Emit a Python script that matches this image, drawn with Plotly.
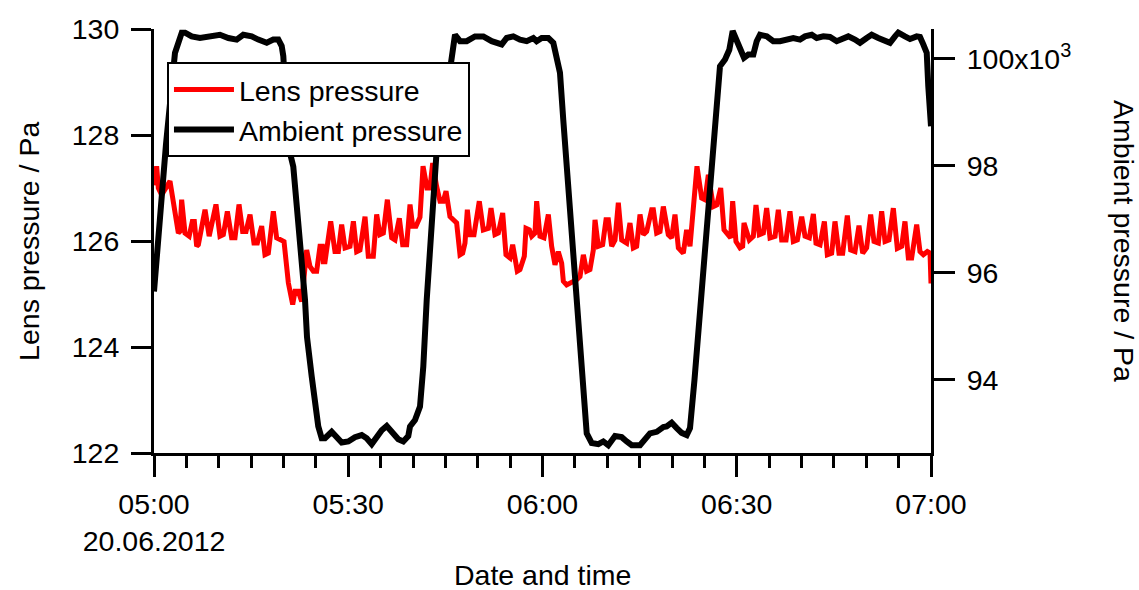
import pandas as pd
import plotly.graph_objects as go

# Measurement start and elapsed time (minutes) for each series
start = pd.Timestamp("2012-06-20 05:00")

lens_minutes = [
    0.0, 0.41, 0.67, 1.18, 2.47, 3.24, 3.76, 4.02, 4.27, 4.79, 5.43, 5.92, 6.23, 6.59, 6.85,
    7.88, 8.52, 9.57, 10.19, 10.71, 11.33, 11.99, 12.51, 13.13, 13.69, 14.21, 14.83, 15.44,
    15.96, 16.63, 17.14, 17.66, 18.43, 18.94, 19.46, 20.08, 20.75, 21.42, 21.78, 22.29, 22.81,
    23.58, 24.09, 24.61, 25.12, 25.64, 26.0, 26.15, 26.41, 27.29, 27.95, 28.47, 28.98, 29.50,
    30.27, 30.79, 31.30, 31.81, 32.59, 33.10, 33.87, 34.39, 34.90, 35.42, 36.04, 36.71, 37.22,
    37.89, 38.41, 39.02, 39.54, 39.95, 40.46, 41.08, 41.55, 42.16, 42.62, 43.04, 43.65, 44.17,
    44.68, 45.10, 45.71, 46.23, 46.74, 47.26, 47.67, 48.03, 48.39, 48.80, 49.42, 50.24, 50.86,
    51.63, 52.05, 52.66, 53.18, 53.85, 54.36, 54.98, 55.39, 56.11, 56.52, 57.19, 57.45, 57.97,
    58.33, 58.84, 59.10, 59.61, 60.23, 60.90, 61.41, 61.93, 62.44, 62.96, 63.22, 63.73, 64.25,
    64.76, 65.28, 65.79, 66.31, 66.82, 67.33, 67.85, 68.11, 68.62, 69.29, 69.81, 70.17, 70.68,
    71.20, 71.71, 72.23, 73.00, 73.51, 74.03, 74.54, 75.06, 75.57, 76.09, 76.86, 77.12, 77.63,
    78.15, 78.66, 79.43, 79.95, 80.46, 80.98, 81.75, 82.26, 82.78, 83.86, 84.58, 85.10, 85.61,
    86.38, 86.90, 87.52, 88.03, 88.70, 89.06, 89.37, 89.88, 90.50, 90.91, 91.12, 91.63, 91.94,
    92.56, 92.97, 93.49, 94.11, 94.62, 95.14, 95.91, 96.42, 96.94, 97.61, 98.22, 98.74, 99.36,
    100.03, 100.54, 101.21, 101.83, 102.24, 102.86, 103.53, 103.99, 104.66, 105.17, 105.79,
    106.36, 107.08, 107.59, 108.26, 108.88, 109.45, 110.06, 110.68, 111.20, 111.87, 112.38,
    112.90, 113.51, 114.18, 114.80, 115.47, 115.98, 116.50, 117.01, 117.79, 118.30, 118.82,
    119.43, 119.85, 120.0,
]
lens_pressure = [
    127.05, 127.41, 127.0, 126.87, 127.13, 126.53, 126.15, 126.18, 126.78, 126.15, 126.09,
    126.37, 126.37, 125.90, 125.93, 126.59, 126.09, 126.69, 126.09, 126.12, 126.56, 126.06,
    126.06, 126.69, 126.18, 126.18, 126.50, 125.96, 125.96, 126.28, 125.74, 125.77, 126.56,
    126.06, 126.02, 125.99, 125.21, 124.80, 125.05, 125.05, 124.86, 125.83, 125.52, 125.43,
    125.43, 125.90, 125.90, 125.61, 125.61, 126.37, 125.80, 125.80, 126.31, 125.87, 125.90,
    126.37, 125.80, 125.83, 126.46, 125.71, 125.71, 126.50, 126.12, 126.15, 126.78, 126.06,
    126.02, 126.43, 125.93, 125.93, 126.69, 126.28, 126.28, 126.45, 127.41, 127.0, 127.0,
    127.47, 127.03, 126.75, 126.75, 126.94, 126.46, 126.40, 126.34, 125.74, 125.77, 125.96,
    126.59, 126.12, 126.12, 126.75, 126.21, 126.24, 126.62, 126.12, 126.15, 126.53, 125.74,
    125.68, 125.93, 125.43, 125.46, 125.71, 126.24, 126.21, 126.09, 126.15, 126.75, 126.09,
    126.06, 126.50, 125.90, 125.55, 125.80, 125.58, 125.24, 125.17, 125.20, 125.24, 125.27,
    125.33, 125.74, 125.43, 125.46, 125.83, 126.40, 125.90, 125.93, 126.40, 126.40, 125.90,
    126.02, 126.72, 126.02, 125.96, 126.34, 125.87, 125.90, 126.50, 126.12, 126.18, 126.59,
    126.59, 126.15, 126.18, 126.65, 126.12, 126.06, 126.50, 125.87, 125.77, 126.21, 125.90,
    127.41, 126.81, 126.78, 127.25, 126.65, 126.68, 127.0, 126.21, 126.09, 126.06, 126.75,
    125.99, 125.87, 125.90, 126.34, 126.09, 126.02, 126.09, 126.68, 126.12, 126.15, 126.62,
    126.06, 126.09, 126.59, 126.02, 126.02, 126.56, 125.99, 126.02, 126.46, 126.09, 126.06,
    126.51, 125.96, 125.93, 126.37, 125.74, 125.77, 126.37, 125.77, 125.77, 126.48, 125.83,
    125.80, 126.29, 125.77, 125.87, 126.50, 125.99, 125.96, 126.56, 125.99, 126.02, 126.62,
    125.86, 125.90, 126.37, 125.68, 125.68, 126.31, 125.80, 125.74, 125.80, 125.77, 125.20,
]

ambient_minutes = [
    0.0, 1.85, 3.24, 4.29, 4.80, 5.82, 7.10, 8.39, 10.19, 11.48, 12.77, 13.79, 15.09, 16.11,
    17.41, 18.42, 19.20, 19.72, 19.97, 20.74, 21.51, 23.32, 23.63, 24.36, 25.37, 25.90, 26.41,
    27.44, 28.22, 28.99, 30.01, 31.04, 32.08, 32.85, 33.62, 34.39, 35.17, 35.94, 36.71, 37.73,
    38.50, 39.27, 39.54, 40.31, 41.08, 41.59, 42.12, 43.66, 44.17, 45.98, 46.49, 47.26, 48.29,
    49.58, 50.86, 52.15, 53.70, 54.47, 55.49, 56.53, 57.56, 58.58, 59.10, 59.88, 60.90, 61.67,
    62.19, 62.70, 63.21, 63.98, 64.76, 65.53, 66.30, 66.83, 67.60, 68.62, 69.39, 70.16, 71.20,
    72.23, 73.00, 73.78, 75.06, 75.83, 76.60, 77.64, 78.66, 79.18, 79.95, 80.73, 81.50, 82.27,
    82.78, 83.47, 84.25, 85.02, 85.79, 86.56, 87.41, 88.19, 88.85, 89.37, 90.24, 91.12, 91.78,
    92.56, 93.08, 93.59, 94.63, 95.64, 96.68, 97.71, 98.73, 99.77, 100.54, 101.58, 102.35,
    103.37, 104.40, 105.44, 106.21, 107.23, 108.26, 109.03, 110.07, 110.84, 111.86, 112.63,
    113.67, 114.44, 114.95, 115.98, 116.76, 117.79, 118.30, 118.81, 119.34, 119.58, 120.0,
]
ambient_pressure = [
    95650, 98400, 100110, 100490, 100490, 100420, 100390, 100420, 100450, 100390, 100360,
    100450, 100420, 100360, 100300, 100360, 100360, 100240, 100050, 98370, 97990, 95500,
    94800, 94060, 93130, 92910, 92910, 93030, 92910, 92830, 92850, 92930, 92970, 92910, 92800,
    92940, 93060, 93140, 93030, 92890, 92850, 92950, 93130, 93250, 93500, 94250, 95500, 98300,
    98490, 100110, 100450, 100330, 100330, 100420, 100420, 100330, 100270, 100390, 100420,
    100360, 100330, 100390, 100330, 100390, 100390, 100300, 100050, 99740, 98860, 97550, 96340,
    94940, 93630, 93000, 92820, 92800, 92850, 92780, 92950, 92930, 92850, 92780, 92780, 92880,
    93000, 93030, 93120, 93130, 93200, 93100, 93010, 92970, 93100, 94000, 95120, 96340, 97550,
    98770, 99860, 99990, 100170, 100520, 100300, 100020, 100080, 100080, 100330, 100450,
    100420, 100330, 100330, 100370, 100390, 100360, 100420, 100450, 100390, 100420, 100410,
    100330, 100360, 100420, 100360, 100300, 100390, 100450, 100390, 100360, 100300, 100420,
    100490, 100420, 100370, 100420, 100410, 100270, 100110, 99490, 98740,
]

# Axis ticks
time_ticks = ["2012-06-20 05:00", "2012-06-20 05:30", "2012-06-20 06:00",
              "2012-06-20 06:30", "2012-06-20 07:00"]
time_labels = ["05:00<br>20.06.2012", "05:30", "06:00", "06:30", "07:00"]
lens_ticks = [122, 124, 126, 128, 130]
ambient_ticks = [94000, 96000, 98000, 100000]
ambient_labels = ["94", "96", "98", "100x10<sup>3</sup>"]

lens_time = start + pd.to_timedelta(lens_minutes, unit="min")
ambient_time = start + pd.to_timedelta(ambient_minutes, unit="min")

FONT = "Liberation Sans, Arial, sans-serif"
FS = 28.5

fig = go.Figure()
fig.add_trace(go.Scatter(
    x=lens_time, y=lens_pressure, mode="lines", name="Lens pressure",
    line=dict(color="#ff0000", width=5), yaxis="y",
))
fig.add_trace(go.Scatter(
    x=ambient_time, y=ambient_pressure, mode="lines", name="Ambient pressure",
    line=dict(color="#000000", width=6), yaxis="y2",
))

axis_common = dict(
    showgrid=False, zeroline=False, showline=True, linecolor="black", linewidth=3,
    ticks="outside", tickcolor="black", tickwidth=3, automargin=False,
    tickfont=dict(family=FONT, size=FS, color="black"),
)
title_font = dict(family=FONT, size=FS, color="black")

fig.update_layout(
    width=1139, height=590,
    margin=dict(l=154, r=208, t=29, b=137, autoexpand=False),
    paper_bgcolor="white", plot_bgcolor="white",
    font=dict(family=FONT, size=FS, color="black"),
    xaxis=dict(
        type="date",
        range=[time_ticks[0], time_ticks[-1]],
        tickmode="array", tickvals=time_ticks, ticktext=time_labels,
        ticklen=21, ticklabelstandoff=3,
        minor=dict(ticks="outside", ticklen=12, tickwidth=3, tickcolor="black",
                   dtick=5 * 60 * 1000, tick0=time_ticks[0], showgrid=False),
        **axis_common,
    ),
    yaxis=dict(
        range=[122, 130], tickmode="array", tickvals=lens_ticks,
        ticklen=20, ticklabelstandoff=6,
        **axis_common,
    ),
    yaxis2=dict(
        overlaying="y", side="right", range=[92634, 100558],
        tickmode="array", tickvals=ambient_ticks, ticktext=ambient_labels,
        ticklen=21, ticklabelstandoff=6,
        **axis_common,
    ),
    legend=dict(
        x=0.0167, y=0.921, xanchor="left", yanchor="top",
        bgcolor="white", bordercolor="black", borderwidth=2,
        font=dict(family=FONT, size=FS, color="black"),
        itemwidth=60,
    ),
    annotations=[
        dict(text="Date and time", xref="paper", yref="paper",
             x=0.5, y=-0.2877, xanchor="center", yanchor="middle",
             borderpad=0, showarrow=False, font=title_font),
        dict(text="Lens pressure / Pa", xref="paper", yref="paper",
             x=-0.161, y=0.5, xanchor="center", yanchor="middle",
             textangle=-90, showarrow=False, font=title_font),
        dict(text="Ambient pressure / Pa", xref="paper", yref="paper",
             x=1.2485, y=0.5, xanchor="center", yanchor="middle",
             textangle=90, showarrow=False, font=title_font),
    ],
)

fig.write_html("out.html")
